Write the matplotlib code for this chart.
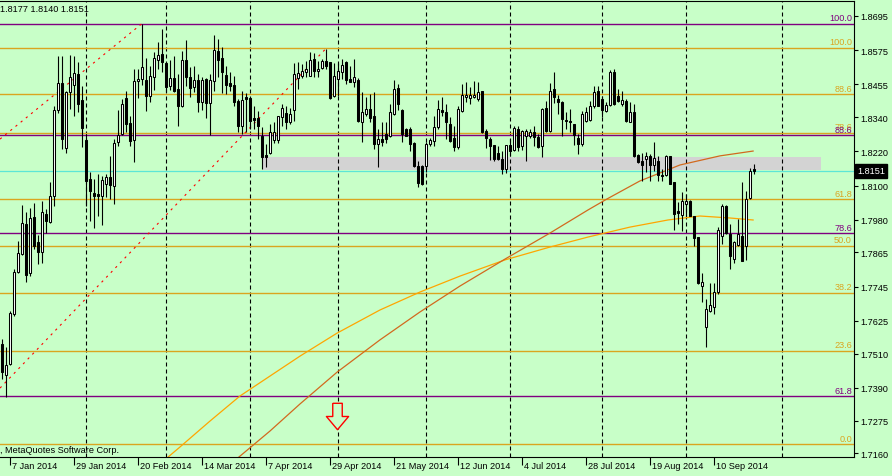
import matplotlib
matplotlib.use("Agg")
import matplotlib.pyplot as plt
import matplotlib.transforms as mtransforms
import numpy as np

# ---------------- data ----------------
opens = [1.7543,1.7435,1.7473,1.7649,1.7795,1.7859,1.7965,1.7793,1.7988,1.7903,
         1.7868,1.8000,1.7971,1.8064,1.8365,1.8460,1.8233,1.8427,1.8454,1.8491,
         1.8400,1.8261,1.8123,1.8074,1.8070,1.8064,1.8105,1.8131,1.8099,1.8254,
         1.8281,1.8406,1.8319,1.8261,1.8466,1.8474,1.8470,1.8413,1.8480,1.8542,
         1.8562,1.8530,1.8450,1.8476,1.8439,1.8378,1.8541,1.8480,1.8445,1.8472,
         1.8392,1.8474,1.8390,1.8468,1.8573,1.8546,1.8488,1.8460,1.8453,1.8398,
         1.8310,1.8410,1.8407,1.8337,1.8336,1.8275,1.8208,1.8214,1.8261,1.8261,
         1.8339,1.8354,1.8324,1.8366,1.8476,1.8483,1.8500,1.8485,1.8544,1.8501,
         1.8511,1.8538,1.8532,1.8413,1.8474,1.8500,1.8532,1.8474,1.8464,1.8471,
         1.8324,1.8351,1.8369,1.8343,1.8246,1.8263,1.8281,1.8273,1.8351,1.8441,
         1.8366,1.8298,1.8298,1.8249,1.8167,1.8170,1.8170,1.8246,1.8257,1.8304,
         1.8365,1.8357,1.8316,1.8266,1.8234,1.8363,1.8409,1.8406,1.8409,1.8404,
         1.8433,1.8293,1.8263,1.8242,1.8214,1.8193,1.8158,1.8242,1.8226,1.8298,
         1.8237,1.8273,1.8275,1.8289,1.8269,1.8237,1.8371,1.8293,1.8439,1.8404,
         1.8394,1.8331,1.8328,1.8316,1.8266,1.8246,1.8328,1.8331,1.8380,1.8433,
         1.8404,1.8363,1.8383,1.8500,1.8413,1.8386,1.8398,1.8324,1.8359,1.8207,
         1.8187,1.8193,1.8202,1.8172,1.8187,1.8137,1.8137,1.8202,1.8111,1.8012,
         1.7997,1.8035,1.8047,1.7992,1.7918,1.7749,1.7602,1.7661,1.7672,1.7727,
         1.7924,1.8027,1.7930,1.7842,1.7891,1.7924,1.7889,1.8055,1.8157]
highs = [1.7561,1.7532,1.7661,1.7807,1.7906,1.8031,1.8006,1.8020,1.8037,1.7926,
         1.8047,1.8017,1.8111,1.8380,1.8553,1.8556,1.8433,1.8558,1.8553,1.8535,
         1.8450,1.8281,1.8146,1.8123,1.8140,1.8134,1.8140,1.8205,1.8263,1.8365,
         1.8403,1.8433,1.8345,1.8509,1.8509,1.8667,1.8546,1.8521,1.8568,1.8603,
         1.8649,1.8535,1.8542,1.8553,1.8492,1.8573,1.8612,1.8515,1.8521,1.8492,
         1.8480,1.8477,1.8492,1.8628,1.8614,1.8585,1.8521,1.8497,1.8486,1.8404,
         1.8433,1.8425,1.8410,1.8378,1.8363,1.8304,1.8246,1.8316,1.8322,1.8345,
         1.8386,1.8380,1.8371,1.8530,1.8532,1.8526,1.8538,1.8570,1.8565,1.8538,
         1.8544,1.8579,1.8535,1.8530,1.8530,1.8544,1.8538,1.8521,1.8544,1.8476,
         1.8427,1.8409,1.8421,1.8427,1.8298,1.8322,1.8322,1.8386,1.8472,1.8456,
         1.8369,1.8301,1.8304,1.8252,1.8187,1.8172,1.8252,1.8266,1.8345,1.8401,
         1.8409,1.8386,1.8339,1.8310,1.8380,1.8456,1.8462,1.8445,1.8468,1.8465,
         1.8433,1.8298,1.8269,1.8242,1.8238,1.8222,1.8242,1.8263,1.8310,1.8310,
         1.8296,1.8298,1.8298,1.8310,1.8281,1.8371,1.8398,1.8460,1.8497,1.8418,
         1.8398,1.8357,1.8368,1.8316,1.8281,1.8363,1.8374,1.8398,1.8448,1.8448,
         1.8415,1.8394,1.8507,1.8509,1.8439,1.8433,1.8404,1.8394,1.8386,1.8211,
         1.8214,1.8216,1.8211,1.8252,1.8205,1.8158,1.8207,1.8205,1.8111,1.8043,
         1.8076,1.8070,1.8049,1.7992,1.7918,1.7793,1.7700,1.7758,1.7758,1.7953,
         1.8035,1.8032,1.7965,1.7907,1.7983,1.8111,1.8082,1.8160,1.8177]
lows = [1.7420,1.7357,1.7470,1.7643,1.7793,1.7856,1.7762,1.7783,1.7877,1.7824,
        1.7828,1.7933,1.7968,1.8029,1.8354,1.8228,1.8214,1.8368,1.8345,1.8357,
        1.8236,1.8029,1.7976,1.7951,1.7994,1.7961,1.8058,1.8052,1.8035,1.8240,
        1.8277,1.8287,1.8240,1.8181,1.8407,1.8454,1.8363,1.8392,1.8436,1.8509,
        1.8497,1.8429,1.8436,1.8427,1.8310,1.8374,1.8450,1.8410,1.8427,1.8357,
        1.8366,1.8337,1.8277,1.8433,1.8480,1.8425,1.8421,1.8433,1.8380,1.8287,
        1.8281,1.8287,1.8298,1.8298,1.8263,1.8158,1.8164,1.8211,1.8249,1.8249,
        1.8308,1.8300,1.8316,1.8328,1.8439,1.8476,1.8480,1.8483,1.8480,1.8480,
        1.8509,1.8509,1.8404,1.8409,1.8415,1.8474,1.8456,1.8462,1.8445,1.8322,
        1.8252,1.8345,1.8322,1.8228,1.8166,1.8238,1.8249,1.8270,1.8348,1.8366,
        1.8252,1.8273,1.8222,1.8164,1.8094,1.8102,1.8146,1.8237,1.8240,1.8298,
        1.8345,1.8263,1.8252,1.8222,1.8228,1.8357,1.8392,1.8386,1.8406,1.8398,
        1.8284,1.8231,1.8191,1.8187,1.8190,1.8141,1.8144,1.8205,1.8222,1.8222,
        1.8226,1.8187,1.8266,1.8237,1.8230,1.8199,1.8287,1.8289,1.8390,1.8351,
        1.8273,1.8298,1.8287,1.8242,1.8211,1.8240,1.8324,1.8328,1.8371,1.8378,
        1.8339,1.8357,1.8380,1.8383,1.8392,1.8380,1.8324,1.8322,1.8199,1.8179,
        1.8117,1.8146,1.8117,1.8152,1.8117,1.8117,1.8132,1.8105,1.7945,1.7965,
        1.7942,1.7994,1.7992,1.7887,1.7754,1.7690,1.7532,1.7655,1.7649,1.7719,
        1.7895,1.7930,1.7807,1.7828,1.7888,1.7836,1.7840,1.8052,1.8140]
closes = [1.7446,1.7470,1.7652,1.7795,1.7863,1.7968,1.7786,1.7985,1.7889,1.7868,
          1.8006,1.7976,1.8062,1.8365,1.8460,1.8263,1.8427,1.8480,1.8495,1.8386,
          1.8302,1.8117,1.8082,1.8062,1.8062,1.8119,1.8131,1.8102,1.8249,1.8278,
          1.8386,1.8316,1.8257,1.8466,1.8474,1.8515,1.8415,1.8483,1.8546,1.8558,
          1.8535,1.8447,1.8476,1.8433,1.8380,1.8541,1.8480,1.8441,1.8472,1.8392,
          1.8472,1.8390,1.8470,1.8576,1.8542,1.8500,1.8453,1.8450,1.8394,1.8308,
          1.8401,1.8404,1.8328,1.8331,1.8308,1.8199,1.8201,1.8287,1.8287,1.8343,
          1.8371,1.8324,1.8351,1.8491,1.8495,1.8503,1.8509,1.8542,1.8503,1.8509,
          1.8538,1.8521,1.8406,1.8483,1.8503,1.8523,1.8471,1.8464,1.8480,1.8328,
          1.8359,1.8369,1.8337,1.8246,1.8263,1.8252,1.8263,1.8357,1.8439,1.8386,
          1.8281,1.8275,1.8246,1.8167,1.8109,1.8105,1.8246,1.8261,1.8304,1.8368,
          1.8359,1.8322,1.8257,1.8234,1.8368,1.8418,1.8418,1.8418,1.8418,1.8427,
          1.8289,1.8266,1.8238,1.8193,1.8193,1.8158,1.8242,1.8222,1.8301,1.8234,
          1.8292,1.8292,1.8289,1.8269,1.8234,1.8368,1.8293,1.8433,1.8409,1.8394,
          1.8333,1.8328,1.8324,1.8277,1.8246,1.8351,1.8359,1.8380,1.8429,1.8380,
          1.8366,1.8383,1.8500,1.8386,1.8398,1.8401,1.8328,1.8359,1.8205,1.8184,
          1.8172,1.8202,1.8172,1.8195,1.8137,1.8132,1.8202,1.8105,1.8000,1.8004,
          1.8047,1.8047,1.7994,1.7915,1.7758,1.7760,1.7667,1.7681,1.7725,1.7945,
          1.8029,1.7933,1.7854,1.7901,1.7930,1.7836,1.8053,1.8152,1.8151]

# moving averages (bar index, price)
ma_slow_idx = [37.1, 41.4, 44.6, 52.1, 59.6, 67.1, 74.6, 83.9, 94.6, 104.6, 114.6,
               125.9, 137.1, 146.6, 157.1, 166.6, 174.6, 182.1, 187.9]
ma_slow_val = [1.7091, 1.7144, 1.7182, 1.7273, 1.7361, 1.7431, 1.7501, 1.7582, 1.7663,
               1.7726, 1.7782, 1.7839, 1.7884, 1.7919, 1.7954, 1.7979, 1.7993, 1.7986, 1.7979]
ma_fast_idx = [54.6, 59.1, 67.1, 74.6, 83.9, 94.6, 104.6, 114.6, 125.9, 137.1, 146.6,
               151.4, 159.6, 169.6, 179.6, 187.9]
ma_fast_val = [1.7087, 1.7144, 1.7238, 1.7333, 1.7445, 1.7558, 1.7656, 1.7747, 1.7842,
               1.7933, 1.8014, 1.8053, 1.8116, 1.8172, 1.8204, 1.8221]

# Fibonacci levels
fib_o_labels = ["0.0", "23.6", "38.2", "50.0", "61.8", "78.6", "88.6", "100.0"]
fib_o_prices = [1.7192, 1.7520, 1.7723, 1.7888, 1.8051, 1.8285, 1.8421, 1.8583]
fib_p_labels = ["61.8", "78.6", "88.6", "100.0"]
fib_p_prices = [1.7361, 1.7933, 1.8277, 1.8667]

# trend lines (bar index, price)
trend_a_idx = [-0.375, 81]
trend_a_val = [1.7389, 1.8579]
trend_b_idx = [-0.375, 35]
trend_b_val = [1.8263, 1.8667]

# zone rectangle and markers
zone_idx = [65.4, 204.9]
zone_val = [1.8155, 1.8200]
bid_price = 1.8151
arrow_idx = [83.9]
arrow_val = [1.7291]

sep_idx = [21, 41, 62, 84, 106, 127, 150, 171, 195]
date_idx = [2, 18, 34, 50, 66, 82, 98, 114, 130, 146, 162, 178]
date_labels = ["7 Jan 2014", "29 Jan 2014", "20 Feb 2014", "14 Mar 2014", "7 Apr 2014",
               "29 Apr 2014", "21 May 2014", "12 Jun 2014", "4 Jul 2014", "28 Jul 2014",
               "19 Aug 2014", "10 Sep 2014"]
price_ticks = [1.8695, 1.8575, 1.8455, 1.8340, 1.8220, 1.8100, 1.7980, 1.7865,
               1.7745, 1.7625, 1.7510, 1.7390, 1.7275, 1.7160]
header_text = "1.8177 1.8140 1.8151"
footer_text = ", MetaQuotes Software Corp."

# ---------------- styling ----------------
BG = "#C8FFC8"
FIB_O = "#DAA520"
FIB_P = "#800080"
FONT = "Liberation Sans"
FS = 6.6

plt.rcParams["font.family"] = [FONT, "DejaVu Sans"]

W, H = 892, 477
fig = plt.figure(figsize=(W / 100, H / 100), dpi=100, facecolor=BG)
ax = fig.add_axes([0, 1 - 458 / H, 854 / W, 456 / H])
ax.set_facecolor(BG)
ax.set_xlim(-0.375, 213.125)
ax.set_ylim(1.714709, 1.874765)

ax.spines["left"].set_visible(False)
for s in ["top", "right", "bottom"]:
    ax.spines[s].set_color("black")
    ax.spines[s].set_linewidth(0.8)

# right price axis
ax.yaxis.tick_right()
ax.set_yticks(price_ticks)
ax.set_yticklabels(["%.4f" % p for p in price_ticks])
ax.tick_params(axis="y", direction="out", length=3, width=0.8, pad=1.5,
               labelsize=FS, colors="black")

# bottom date axis
ax.set_xticks(date_idx)
ax.set_xticklabels([])
ax.tick_params(axis="x", direction="out", length=6, width=0.8)
tx = mtransforms.blended_transform_factory(ax.transData, ax.transAxes)
tx_off = mtransforms.offset_copy(tx, fig=fig, x=2, y=-9, units="dots")
for d, lab in zip(date_idx, date_labels):
    ax.text(d, 0, lab, transform=tx_off, ha="left", va="center", fontsize=FS,
            color="black", clip_on=False)

# zone and bid line
ax.fill_between(zone_idx, zone_val[0], zone_val[1], color="#D3D3D3", zorder=1, lw=0)
ax.axhline(bid_price, color="#5CE6D6", lw=0.9, zorder=1.5)

# separators
for s in sep_idx:
    ax.axvline(s, color="black", lw=0.8, linestyle=(0, (3.6, 2.7)), zorder=1.2)

# fib lines
ty = mtransforms.blended_transform_factory(ax.transAxes, ax.transData)
ty_off = mtransforms.offset_copy(ty, fig=fig, x=-2, y=1.5, units="dots")
for lab, p in zip(fib_o_labels, fib_o_prices):
    ax.axhline(p, color=FIB_O, lw=1.0, zorder=1.6)
    ax.text(1, p, lab, transform=ty_off, ha="right", va="bottom", fontsize=FS, color=FIB_O)
for lab, p in zip(fib_p_labels, fib_p_prices):
    ax.axhline(p, color=FIB_P, lw=1.0, zorder=1.6)
    ax.text(1, p, lab, transform=ty_off, ha="right", va="bottom", fontsize=FS, color=FIB_P)

# trend lines
ax.plot(trend_a_idx, trend_a_val, color="red", lw=0.8, linestyle=(0, (2, 4)), zorder=2)
ax.plot(trend_b_idx, trend_b_val, color="red", lw=0.8, linestyle=(0, (2, 4)), zorder=2)

# moving averages
ax.plot(ma_slow_idx, ma_slow_val, color="#FFA500", lw=0.9, zorder=2.5)
ax.plot(ma_fast_idx, ma_fast_val, color="#D2691E", lw=0.9, zorder=2.5)

# candles
idx = np.arange(len(opens))
o = np.array(opens); c = np.array(closes); h = np.array(highs); l = np.array(lows)
ax.vlines(idx, l, h, color="black", lw=0.8, zorder=3)
up = c >= o
ax.bar(idx[up], (c - o)[up], bottom=o[up], width=0.5, color="white",
       edgecolor="black", linewidth=0.75, zorder=4)
ax.bar(idx[~up], (c - o)[~up], bottom=o[~up], width=0.5, color="black",
       edgecolor="black", linewidth=0.75, zorder=4)

# arrow marker
arrow_verts = [(-0.18, 0.5), (0.18, 0.5), (0.18, 0.0), (0.42, 0.0), (0.0, -0.5),
               (-0.42, 0.0), (-0.18, 0.0), (-0.18, 0.5)]
ax.plot(arrow_idx, arrow_val, linestyle="none", marker=arrow_verts, markersize=19,
        markerfacecolor=BG, markeredgecolor="red", markeredgewidth=1.0, zorder=5)

# bid price box
tb = mtransforms.offset_copy(ty, fig=fig, x=3, y=0, units="dots")
ax.text(1, bid_price, "1.8151", transform=tb, ha="left", va="center", fontsize=FS,
        color="white", bbox=dict(boxstyle="square,pad=0.25", fc="black", ec="black"),
        zorder=6, clip_on=False)

# header / footer
fig.text(0, 1 - 9 / H, header_text, ha="left", va="center", fontsize=FS, color="black")
fig.text(0, 1 - 451 / H, footer_text, ha="left", va="center", fontsize=FS, color="black")

fig.savefig("out.png", dpi=100, facecolor=BG)
